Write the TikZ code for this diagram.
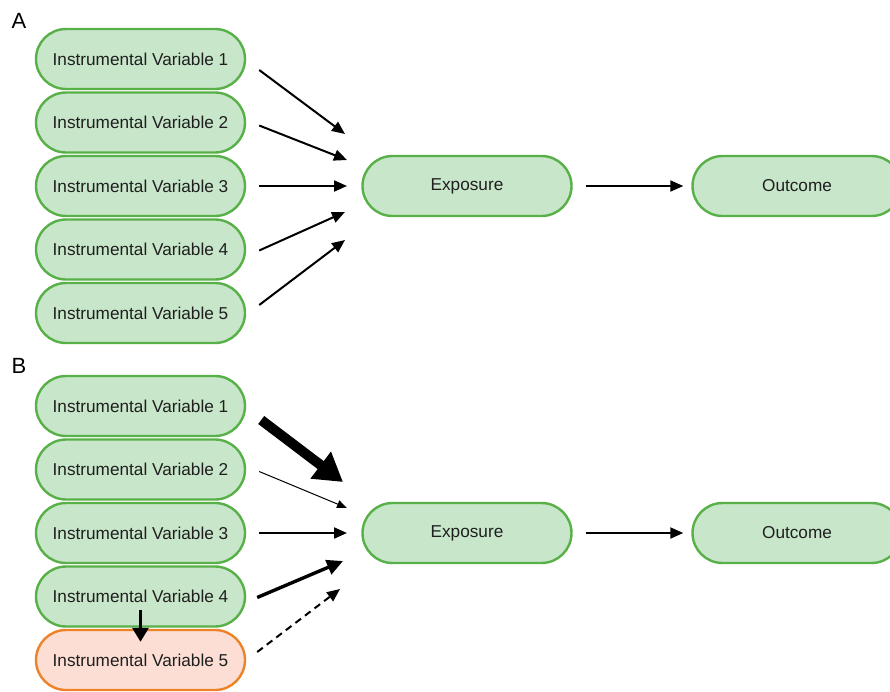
\documentclass[tikz,border=0pt]{standalone}
\usepackage{fontspec}
\setmainfont{Liberation Sans}
\usetikzlibrary{arrows.meta,shapes.misc,calc}
\definecolor{gfill}{RGB}{200,230,201}
\definecolor{gdraw}{RGB}{88,176,72}
\definecolor{ofill}{RGB}{252,222,212}
\definecolor{odraw}{RGB}{238,130,40}
\tikzset{
  pill/.style={rounded rectangle, minimum width=209pt, minimum height=60pt, line width=2.4pt,
    draw=gdraw, fill=gfill, font=\fontsize{17.2}{19}\selectfont, text=black!88, inner sep=0pt},
  opill/.style={pill, draw=odraw, fill=ofill},
  arr/.style={line width=2pt, -{Triangle[length=13pt,width=11pt]}},
  thickarr/.style={line width=10pt, -{Triangle[length=28pt,width=32pt]}},
  thinarr/.style={line width=1pt, -{Triangle[length=10pt,width=8pt]}},
  medarr/.style={line width=3.4pt, -{Triangle[length=16pt,width=15pt]}},
  dasharr/.style={line width=2pt, dash pattern=on 7pt off 5pt, -{Triangle[length=13pt,width=11pt]}},
  panel/.style={font=\fontsize{22}{24}\selectfont}
}
\begin{document}
\begin{tikzpicture}[x=1pt,y=-1pt]
\clip (0,0) rectangle (890,691);
\fill[white] (0,0) rectangle (890,691);
% Panel A
\node[panel] (labA) at (19,21) {A};
\node[pill] (a1) at (140.5,59) {Instrumental Variable 1};
\node[pill] (a2) at (140.5,122.5) {Instrumental Variable 2};
\node[pill] (a3) at (140.5,186) {Instrumental Variable 3};
\node[pill] (a4) at (140.5,249.5) {Instrumental Variable 4};
\node[pill] (a5) at (140.5,313) {Instrumental Variable 5};
\node[pill] (expA) at (467,186) {Exposure};
\node[pill] (outA) at (797,186) {Outcome};
\coordinate (ea1) at (345,134);
\coordinate (ea2) at (347,160);
\coordinate (ea3) at (347,186);
\coordinate (ea4) at (345,212);
\coordinate (ea5) at (345,240);
\draw[arr] ($(a1.east)+(13,11)$) -- (ea1);
\draw[arr] ($(a2.east)+(13,3)$) -- (ea2);
\draw[arr] ($(a3.east)+(13,0)$) -- (ea3);
\draw[arr] ($(a4.east)+(13,1)$) -- (ea4);
\draw[arr] ($(a5.east)+(13,-8)$) -- (ea5);
\draw[arr] ($(expA.east)+(13,0)$) -- ($(outA.west)+(-8,0)$);
% Panel B
\node[panel] (labB) at (19,366) {B};
\node[pill] (b1) at (140.5,406) {Instrumental Variable 1};
\node[pill] (b2) at (140.5,469.5) {Instrumental Variable 2};
\node[pill] (b3) at (140.5,533) {Instrumental Variable 3};
\node[pill] (b4) at (140.5,596.5) {Instrumental Variable 4};
\node[opill] (b5) at (140.5,660) {Instrumental Variable 5};
\node[pill] (expB) at (467,533) {Exposure};
\node[pill] (outB) at (797,533) {Outcome};
\coordinate (eb1) at (343,482);
\coordinate (eb2) at (347,508);
\coordinate (eb3) at (347,533);
\coordinate (eb4) at (343,561);
\coordinate (eb5) at (340,589);
\draw[thickarr] ($(b1.east)+(15,14)$) -- (eb1);
\draw[thinarr] ($(b2.east)+(13,2)$) -- (eb2);
\draw[arr] ($(b3.east)+(13,0)$) -- (eb3);
\draw[medarr] ($(b4.east)+(11,1)$) -- (eb4);
\draw[dasharr] ($(b5.east)+(11,-8)$) -- (eb5);
\draw[arr] ($(expB.east)+(13,0)$) -- ($(outB.west)+(-8,0)$);
\draw[line width=3.2pt, -{Triangle[length=14pt,width=16pt]}] ($(b4.south)+(0,-18)$) -- ($(b5.north)+(0,13)$);
\end{tikzpicture}
\end{document}
